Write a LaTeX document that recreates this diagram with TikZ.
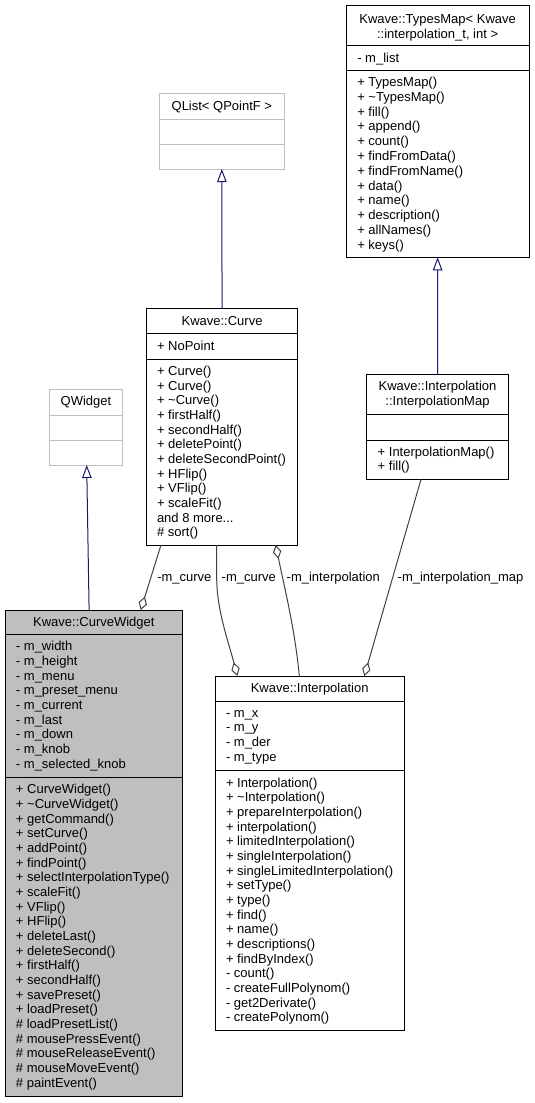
\documentclass[tikz,border=0pt]{standalone}
\usepackage{fontspec}
\setmainfont{Liberation Sans}
\usetikzlibrary{arrows.meta,calc}
\definecolor{dxgrey}{HTML}{BFBFBF}
\definecolor{dxnavy}{HTML}{191970}
\definecolor{dxline}{HTML}{404040}
\newcommand\threedots{.{}.{}.}
\tikzset{
 box/.style={draw=black, line width=1pt, fill=white, rectangle, inner sep=0pt, outer sep=0pt, anchor=north west},
 extbox/.style={box, draw=dxgrey},
 curbox/.style={box, fill=dxgrey},
 divider/.style={line width=1pt, draw=black},
 extdivider/.style={line width=1pt, draw=dxgrey},
 txt/.style={anchor=base west, inner sep=0pt, outer sep=0pt, font=\fontsize{13}{14.67}\selectfont},
 ttl/.style={txt, anchor=base},
 inherit/.style={draw=dxnavy, line width=1pt, -{Triangle[open, length=13pt, width=9.5pt, fill=white]}},
 aggr/.style={draw=dxline, line width=1pt, -{Diamond[open, length=14pt, width=8.5pt, fill=white]}},
}
\newcommand\umlrows[5]{%
  \foreach \lbltext [count=\i from 0] in {#5} {\node[txt] (#1\i) at ({#2},{#3+\i*#4}) {\lbltext};}}
\begin{document}
\begin{tikzpicture}[x=1pt,y=-1pt]
\useasboundingbox (0,0) rectangle (535,1103);
% ---------- TypesMap
\node[box, minimum width=183.3pt, minimum height=252.3pt] (tmap) at (346,5) {};
\draw[divider] (346,45.7) -- ++(183.3,0);
\draw[divider] (346,70.7) -- ++(183.3,0);
\node[ttl] (tmapt1) at (437.65,23.5) {Kwave::TypesMap< Kwave};
\node[ttl] (tmapt2) at (437.65,38.2) {::interpolation\_t, int >};
\node[txt] (tmapa0) at (357.3,62.2) {- m\_list};
\umlrows{tmapm}{357.3}{86.5}{14.8}{+ TypesMap(),+ \textasciitilde TypesMap(),+ fill(),+ append(),+ count(),+ findFromData(),+ findFromName(),+ data(),+ name(),+ description(),+ allNames(),+ keys()}
% ---------- QList
\node[extbox, minimum width=125.7pt, minimum height=75.7pt] (qlist) at (159,93.3) {};
\draw[extdivider] (159,119.3) -- ++(125.7,0);
\draw[extdivider] (159,144.7) -- ++(125.7,0);
\node[ttl] (qlistt) at (221.85,110.5) {QList< QPointF >};
% ---------- Curve
\node[box, minimum width=150.5pt, minimum height=236.7pt] (curve) at (146.8,308.3) {};
\draw[divider] (146.8,333.7) -- ++(150.5,0);
\draw[divider] (146.8,359.3) -- ++(150.5,0);
\node[ttl] (curvet) at (222.05,325.2) {Kwave::Curve};
\node[txt] (curvea0) at (157,350.2) {+ NoPoint};
\umlrows{curvem}{157}{375.5}{14.67}{+ Curve(),+ Curve(),+ \textasciitilde Curve(),+ firstHalf(),+ secondHalf(),+ deletePoint(),+ deleteSecondPoint(),+ HFlip(),+ VFlip(),+ scaleFit(),and 8 more\threedots,\# sort()}
% ---------- QWidget
\node[extbox, minimum width=73pt, minimum height=76pt] (qwidget) at (49.5,389) {};
\draw[extdivider] (49.5,415) -- ++(73,0);
\draw[extdivider] (49.5,440) -- ++(73,0);
\node[ttl] (qwidgett) at (86,405.2) {QWidget};
% ---------- InterpolationMap
\node[box, minimum width=141.6pt, minimum height=104.6pt] (imap) at (366.7,374.7) {};
\draw[divider] (366.7,414.3) -- ++(141.6,0);
\draw[divider] (366.7,440) -- ++(141.6,0);
\node[ttl] (imapt1) at (437.5,390.5) {Kwave::Interpolation};
\node[ttl] (imapt2) at (437.5,405.2) {::InterpolationMap};
\umlrows{imapm}{377.7}{456.2}{14.67}{+ InterpolationMap(),+ fill()}
% ---------- CurveWidget
\node[curbox, minimum width=177.7pt, minimum height=486.7pt] (cw) at (5,610) {};
\draw[divider] (5,634.7) -- ++(177.7,0);
\draw[divider] (5,777.7) -- ++(177.7,0);
\node[ttl] (cwt) at (93.85,626.2) {Kwave::CurveWidget};
\umlrows{cwa}{16}{650.8}{14.67}{- m\_width,- m\_height,- m\_menu,- m\_preset\_menu,- m\_current,- m\_last,- m\_down,- m\_knob,- m\_selected\_knob}
\umlrows{cwm}{16}{793.8}{14.67}{+ CurveWidget(),+ \textasciitilde CurveWidget(),+ getCommand(),+ setCurve(),+ addPoint(),+ findPoint(),+ selectInterpolationType(),+ scaleFit(),+ VFlip(),+ HFlip(),+ deleteLast(),+ deleteSecond(),+ firstHalf(),+ secondHalf(),+ savePreset(),+ loadPreset(),\# loadPresetList(),\# mousePressEvent(),\# mouseReleaseEvent(),\# mouseMoveEvent(),\# paintEvent()}
% ---------- Interpolation
\node[box, minimum width=189.3pt, minimum height=354.7pt] (interp) at (215,676) {};
\draw[divider] (215,701) -- ++(189.3,0);
\draw[divider] (215,770.7) -- ++(189.3,0);
\node[ttl] (interpt) at (309.65,692.2) {Kwave::Interpolation};
\umlrows{interpa}{226}{717.2}{14.67}{- m\_x,- m\_y,- m\_der,- m\_type}
\umlrows{interpm}{226}{787.2}{14.67}{+ Interpolation(),+ \textasciitilde Interpolation(),+ prepareInterpolation(),+ interpolation(),+ limitedInterpolation(),+ singleInterpolation(),+ singleLimitedInterpolation(),+ setType(),+ type(),+ find(),+ name(),+ descriptions(),+ findByIndex(),- count(),- createFullPolynom(),- get2Derivate(),- createPolynom()}
% ---------- inheritance
\draw[inherit] ($(cw.north west)+(84.1,0)$) -- ($(qwidget.south west)+(37.2,0)$);
\draw[inherit] (curve.north) -- (qlist.south);
\draw[inherit] (imap.north) -- (tmap.south);
% ---------- aggregation
\draw[aggr] ($(curve.south west)+(14.2,0)$) -- ($(cw.north west)+(135.7,0)$);
\draw[aggr] ($(curve.south west)+(69.9,0)$) -- ++(0,33) .. controls (216.7,610) and (228,640) .. ($(interp.north west)+(22.3,0)$);
\draw[aggr] ($(interp.north west)+(84.3,0)$) .. controls (295,630) and (285,590) .. ($(curve.south west)+(128.9,0)$);
\draw[aggr] ($(imap.south west)+(54.3,0)$) -- ($(interp.north west)+(149.3,0)$);
% ---------- labels
\node[txt] (l1) at (157.3,581.2) {-m\_curve};
\node[txt] (l2) at (221.7,581.2) {-m\_curve};
\node[txt] (l3) at (286.7,581.2) {-m\_interpolation};
\node[txt] (l4) at (397.7,581.2) {-m\_interpolation\_map};
\end{tikzpicture}
\end{document}
